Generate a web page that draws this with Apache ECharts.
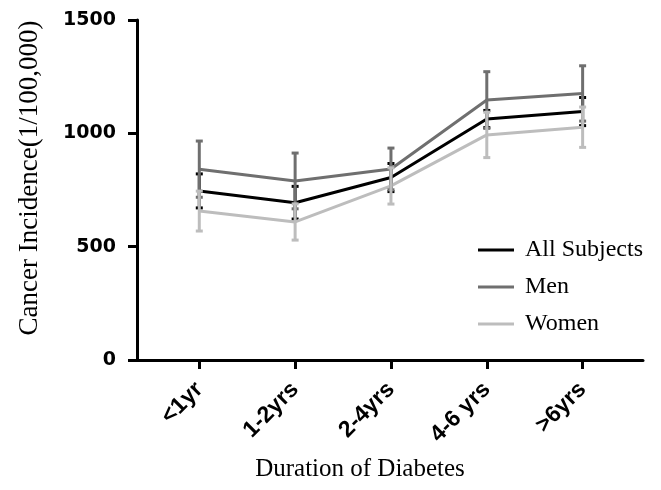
<!DOCTYPE html>
<html>
<head>
<meta charset="utf-8">
<script src="https://cdn.jsdelivr.net/npm/echarts@6/dist/echarts.min.js"></script>
<style>
  html, body { margin: 0; padding: 0; background: #fff; }
  #chart { width: 661px; height: 490px; }
</style>
</head>
<body>
<div id="chart"></div>
<script>
// categories and values
var durations = ['<1yr', '1-2yrs', '2-4yrs', '4-6 yrs', '>6yrs'];
var allMean = [746, 694, 805, 1063, 1096];
var allErr = [75, 72, 62, 38, 62];
var menMean = [842, 790, 843, 1147, 1176];
var menErr = [124, 123, 92, 125, 122];
var womenMean = [657, 609, 768, 993, 1027];
var womenErr = [88, 80, 80, 100, 89];
var yTicks = [0, 500, 1000, 1500];

var colAll = '#000000', colMen = '#6f6f6f', colWomen = '#bdbdbd';

function pts(vals) {
  return vals.map(function (v, i) { return [i, v]; });
}
function errPts(vals, errs) {
  return vals.map(function (v, i) { return [i, v, errs[i]]; });
}

// error bar with caps
function errBar(color, capW) {
  return function (params, api) {
    var x = api.value(0), m = api.value(1), e = api.value(2);
    var hi = api.coord([x, m + e]);
    var lo = api.coord([x, m - e]);
    var st = { stroke: color, lineWidth: 3 };
    return {
      type: 'group',
      children: [
        { type: 'line', shape: { x1: hi[0], y1: hi[1], x2: lo[0], y2: lo[1] }, style: st },
        { type: 'line', shape: { x1: hi[0] - capW, y1: hi[1], x2: hi[0] + capW, y2: hi[1] }, style: st },
        { type: 'line', shape: { x1: lo[0] - capW, y1: lo[1], x2: lo[0] + capW, y2: lo[1] }, style: st }
      ]
    };
  };
}

var chart = echarts.init(document.getElementById('chart'));
chart.setOption({
  animation: false,
  backgroundColor: '#fff',
  grid: { left: 137, right: 18, top: 20, bottom: 130 },
  legend: {
    orient: 'vertical',
    left: 473,
    top: 233,
    icon: 'rect',
    itemWidth: 36,
    itemHeight: 3,
    itemGap: 13,
    data: ['All Subjects', 'Men', 'Women'],
    textStyle: { fontFamily: 'Liberation Serif', fontSize: 24, color: '#000', padding: [0, 0, 0, 6] }
  },
  xAxis: {
    type: 'value',
    min: -0.65,
    max: 4.63,
    name: 'Duration of Diabetes',
    nameLocation: 'middle',
    nameGap: 97,
    nameTextStyle: { fontFamily: 'Liberation Serif', fontSize: 25, color: '#000', padding: [0, 60, 0, 0] },
    axisLine: { lineStyle: { color: '#000', width: 3 } },
    axisTick: { customValues: [0, 1, 2, 3, 4], length: 9, lineStyle: { color: '#000', width: 3 } },
    axisLabel: {
      customValues: [0, 1, 2, 3, 4],
      rotate: 45,
      margin: 26,
      fontFamily: 'Liberation Sans',
      fontWeight: 'bold',
      fontSize: 23,
      color: '#000',
      formatter: function (v) { return durations[Math.round(v)]; }
    },
    splitLine: { show: false }
  },
  yAxis: {
    type: 'value',
    min: yTicks[0],
    max: yTicks[yTicks.length - 1],
    interval: 500,
    name: 'Cancer Incidence(1/100,000)',
    nameLocation: 'middle',
    nameGap: 94,
    nameTextStyle: { fontFamily: 'Liberation Serif', fontSize: 27, color: '#000', padding: [0, 0, 0, 24] },
    axisLine: { show: true, onZero: false, lineStyle: { color: '#000', width: 3 } },
    axisTick: { show: true, length: 9, lineStyle: { color: '#000', width: 3 } },
    axisLabel: {
      margin: 21,
      fontFamily: 'DejaVu Sans',
      fontWeight: 'bold',
      fontSize: 19,
      color: '#000',
      formatter: function (v) { return String(v); }
    },
    splitLine: { show: false }
  },
  series: [
    {
      type: 'custom', name: 'allErr', z: 1, silent: true,
      renderItem: errBar(colAll, 3.5),
      data: errPts(allMean, allErr)
    },
    {
      type: 'line', name: 'All Subjects', z: 3, symbol: 'none',
      data: pts(allMean),
      lineStyle: { color: colAll, width: 3 }, itemStyle: { color: colAll }
    },
    {
      type: 'line', name: 'Men', z: 3, symbol: 'none',
      data: pts(menMean),
      lineStyle: { color: colMen, width: 3 }, itemStyle: { color: colMen }
    },
    {
      type: 'line', name: 'Women', z: 3, symbol: 'none',
      data: pts(womenMean),
      lineStyle: { color: colWomen, width: 3 }, itemStyle: { color: colWomen }
    },
    {
      type: 'custom', name: 'menErr', z: 4, silent: true,
      renderItem: errBar(colMen, 3.5),
      data: errPts(menMean, menErr)
    },
    {
      type: 'custom', name: 'womenErr', z: 4, silent: true,
      renderItem: errBar(colWomen, 3.5),
      data: errPts(womenMean, womenErr)
    }
  ]
});
</script>
</body>
</html>
